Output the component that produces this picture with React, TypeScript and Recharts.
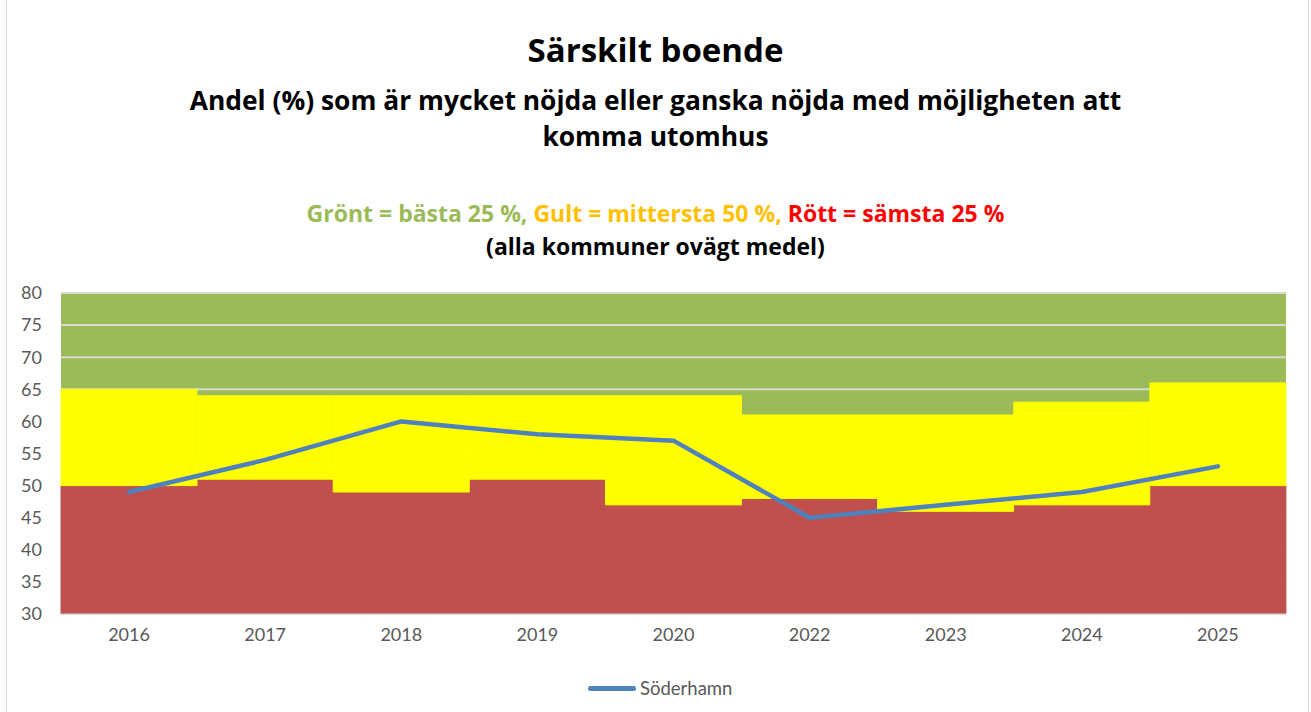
import React from "react";
import {
  ComposedChart,
  Bar,
  Line,
  XAxis,
  YAxis,
  CartesianGrid,
} from "recharts";

// År (2021 saknas i källan)
const years = ["2016", "2017", "2018", "2019", "2020", "2022", "2023", "2024", "2025"];
// övre gräns för röda fältet (sämsta 25 %)
const redTop = [50, 51, 49, 51, 47, 48, 46, 47, 50];
// övre gräns för gula fältet (mittersta 50 %)
const yellowTop = [65, 64, 64, 64, 64, 61, 61, 63, 66];
// Söderhamn
const soderhamn = [49, 54, 60, 58, 57, 45, 47, 49, 53];
const yTicks = [30, 35, 40, 45, 50, 55, 60, 65, 70, 75, 80];

const GREEN = "#9BBB59";
const YELLOW = "#FFFF00";
const RED = "#C0504D";
const BLUE = "#4F81BD";
const FONT = "Lato, 'Open Sans', sans-serif";
const TITLE_FONT = "'Open Sans', Lato, sans-serif";

const data = years.map((year, i) => ({
  year,
  red: redTop[i],
  yellow: yellowTop[i] - redTop[i],
  soderhamn: soderhamn[i],
}));

const W = 1311;
const H = 712;

export default function App() {
  const center: React.CSSProperties = {
    position: "absolute",
    left: 0,
    width: W,
    textAlign: "center",
    fontFamily: TITLE_FONT,
    fontWeight: 700,
    color: "#000",
    whiteSpace: "nowrap",
  };
  return (
    <div
      style={{
        position: "fixed",
        left: 0,
        top: 0,
        width: W,
        height: H,
        background: "#fff",
        overflow: "hidden",
      }}
    >
      <div
        style={{
          position: "absolute",
          left: 6,
          top: -2,
          width: 1303,
          height: 720,
          border: "1px solid #D9D9D9",
          boxSizing: "border-box",
        }}
      />
      <div style={{ ...center, top: 29, fontSize: 33, lineHeight: "42px" }}>
        Särskilt boende
      </div>
      <div style={{ ...center, top: 82, fontSize: 26.4, lineHeight: "36px" }}>
        Andel (%) som är mycket nöjda eller ganska nöjda med möjligheten att
        <br />
        komma utomhus
      </div>
      <div style={{ ...center, top: 197, fontSize: 23, lineHeight: "32px" }}>
        <span style={{ color: GREEN }}>Grönt = bästa 25 %, </span>
        <span style={{ color: "#FFC000" }}>Gult = mittersta 50 %, </span>
        <span style={{ color: "#FF0000" }}>Rött = sämsta 25 %</span>
      </div>
      <div style={{ ...center, top: 230, fontSize: 23, lineHeight: "32px" }}>
        (alla kommuner ovägt medel)
      </div>

      <div style={{ position: "absolute", left: 0, top: 0 }}>
        <ComposedChart
          width={W}
          height={H}
          data={data}
          barCategoryGap={0}
          barGap={0}
          margin={{ top: 293, right: 25, bottom: 68, left: 0 }}
        >
          <CartesianGrid
            vertical={false}
            fill={GREEN}
            fillOpacity={1}
            stroke="#D9D9D9"
            strokeWidth={2}
          />
          <XAxis
            dataKey="year"
            height={30}
            tickLine={false}
            tickSize={0}
            tickMargin={14}
            axisLine={{ stroke: "#D9D9D9" }}
            tick={{ fill: "#595959", fontSize: 18, fontFamily: FONT }}
          />
          <YAxis
            width={61}
            domain={[30, 80]}
            ticks={yTicks}
            allowDataOverflow
            axisLine={false}
            tickLine={false}
            tickSize={0}
            tickMargin={19}
            interval={0}
            tick={{ fill: "#595959", fontSize: 18, fontFamily: FONT }}
          />
          <Bar
            dataKey="red"
            stackId="a"
            fill={RED}
            stroke={RED}
            strokeWidth={1}
            isAnimationActive={false}
          />
          <Bar
            dataKey="yellow"
            stackId="a"
            fill={YELLOW}
            stroke={YELLOW}
            strokeWidth={1}
            isAnimationActive={false}
          />
          <Line
            dataKey="soderhamn"
            name="Söderhamn"
            stroke={BLUE}
            strokeWidth={4.5}
            strokeLinecap="round"
            strokeLinejoin="round"
            dot={false}
            activeDot={false}
            type="linear"
            isAnimationActive={false}
          />
        </ComposedChart>
      </div>

      <div
        style={{
          position: "absolute",
          left: 588,
          top: 676,
          height: 24,
          display: "flex",
          alignItems: "center",
          fontFamily: FONT,
          fontSize: 18.5,
          color: "#595959",
        }}
      >
        <span
          style={{
            display: "inline-block",
            width: 48,
            height: 5,
            borderRadius: 3,
            background: BLUE,
            marginRight: 4,
          }}
        />
        Söderhamn
      </div>
    </div>
  );
}
